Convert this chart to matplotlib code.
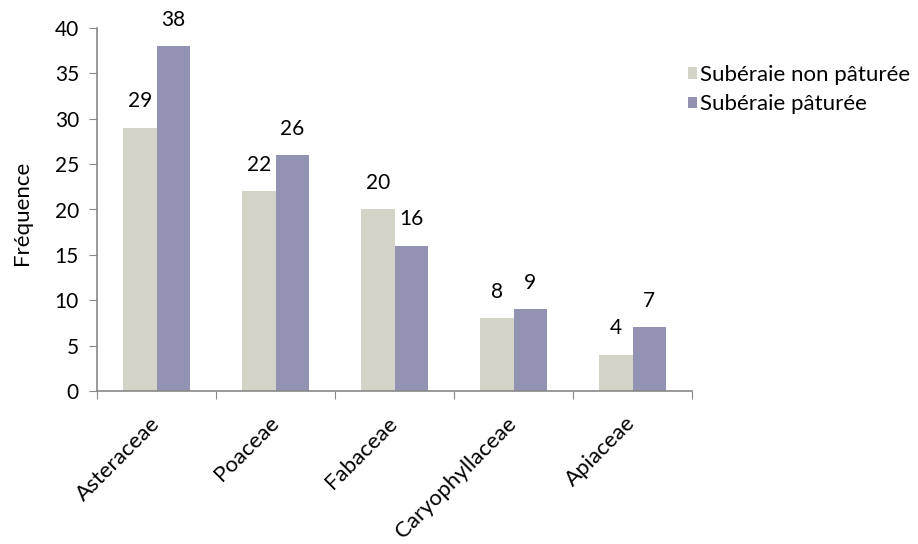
import matplotlib.pyplot as plt
import numpy as np

families = ["Asteraceae", "Poaceae", "Fabaceae", "Caryophyllaceae", "Apiaceae"]
non_paturee = [29, 22, 20, 8, 4]
paturee = [38, 26, 16, 9, 7]
series_labels = ["Subéraie non pâturée", "Subéraie pâturée"]

plt.rcParams["font.family"] = ["Lato", "DejaVu Sans"]

fig = plt.figure(figsize=(9.18, 5.44), dpi=100)
ax = fig.add_axes([97 / 918, 1 - 391 / 544, (692 - 97) / 918, (391 - 28) / 544])

x = np.arange(len(families)) + 0.5
w = 0.283
ax.bar(x - w / 2, non_paturee, w, color="#D3D3C7", label=series_labels[0])
ax.bar(x + w / 2, paturee, w, color="#9292B2", label=series_labels[1])

# value labels above each bar
for xs, vals in [(x - w / 2, non_paturee), (x + w / 2, paturee)]:
    for xi, v in zip(xs, vals):
        ax.annotate(str(v), (xi, v), xytext=(0, 19), textcoords="offset points",
                    ha="center", va="center", fontsize=15)

ax.set_xlim(0, len(families))
ax.set_ylim(0, 40)
ax.set_yticks(range(0, 41, 5))
ax.set_xticks(range(len(families) + 1))
ax.set_xticklabels([])
ax.set_xticks(x, minor=True)
ax.set_xticklabels(families, minor=True, rotation=45, ha="right", va="center",
                   rotation_mode="anchor", fontsize=16)
ax.tick_params(axis="x", which="minor", length=0, pad=21)
ax.tick_params(axis="x", which="major", length=6, color="#888888", direction="out")
ax.tick_params(axis="y", length=6, color="#888888", labelsize=15, pad=7)

for s in ["top", "right"]:
    ax.spines[s].set_visible(False)
for s in ["left", "bottom"]:
    ax.spines[s].set_color("#888888")
    ax.spines[s].set_linewidth(1.2)

ax.set_ylabel("Fréquence", fontsize=16, va="center")
ax.yaxis.set_label_coords((22 - 97) / 595, 0.49)

fig.legend(loc="upper left", bbox_to_anchor=(688 / 918, 1 - 65 / 544), frameon=False,
           fontsize=16, handlelength=0.4, handleheight=0.4, handletextpad=0.15,
           labelspacing=0.42, borderaxespad=0, borderpad=0)

fig.savefig("out.png", dpi=100)
